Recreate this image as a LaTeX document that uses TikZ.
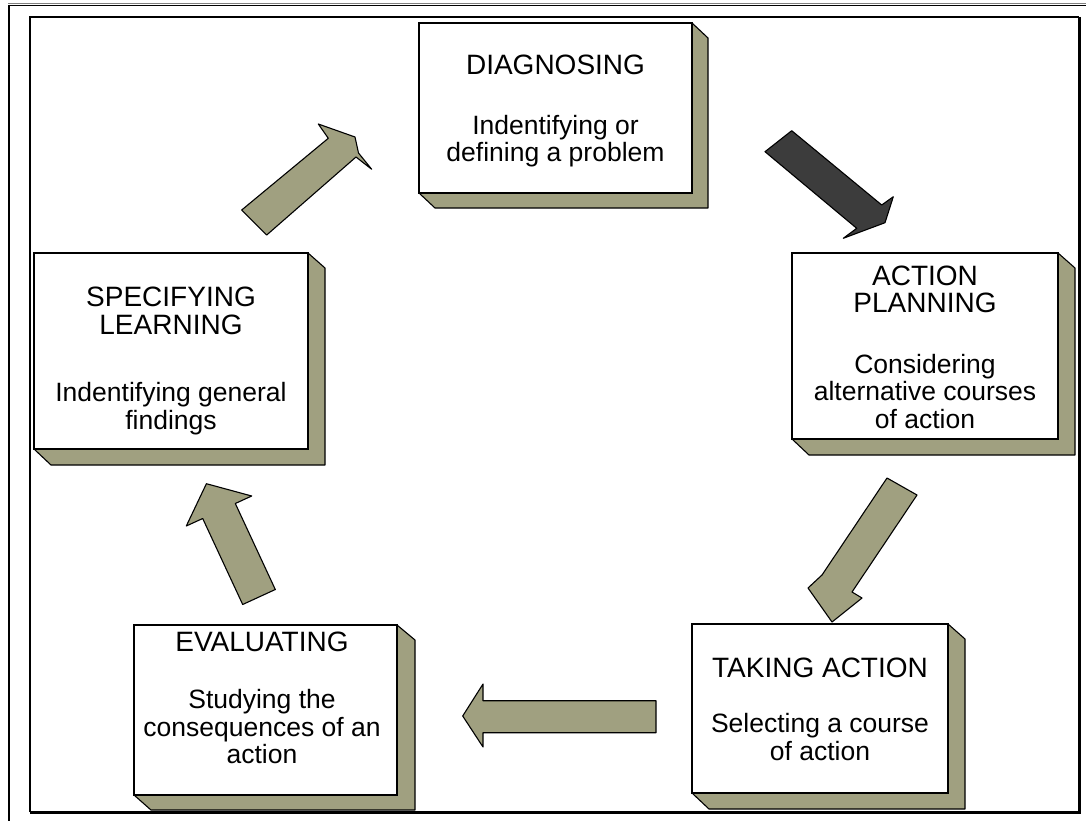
\documentclass[tikz,border=0pt]{standalone}
\usepackage{fontspec}
\setmainfont{Liberation Sans}
\definecolor{khaki}{RGB}{160,160,128}
\definecolor{darkarrow}{RGB}{60,60,60}
\newcommand{\ttl}[1]{{\fontsize{28}{28}\selectfont #1}}
\begin{document}
\begin{tikzpicture}[x=1pt,y=-1pt,
  face/.style={draw=black,line width=1.3pt,fill=white,inner sep=0pt},
  lbl/.style={inner sep=0pt,align=center,font=\fontsize{26.5}{27.5}\selectfont},
  side/.style={draw=black,line width=1.1pt,fill=khaki,line join=round},
  blockarrow/.style={draw=black,line width=1.1pt,fill=khaki,line join=round},
  darkblock/.style={draw=black,line width=1.1pt,fill=darkarrow,line join=round}]
\useasboundingbox (0,0) rectangle (1086,821);
\fill[white] (0,0) rectangle (1086,821);
% frame
\draw[line width=1pt,draw=gray] (8,3.5) -- (1086,3.5);
\draw[line width=1.6pt] (8,5.5) -- (1086,5.5);
\draw[line width=2pt] (9,5) -- (9,821);
\draw[line width=1.6pt] (30,812) -- (30,17) -- (1079,17);
\draw[line width=3pt] (1079,17) -- (1079,812) -- (30,812);
% side faces
\draw[side] (692,23) -- (708,38) -- (708,208) -- (435,208) -- (419,193) -- cycle;
\draw[side] (1058,253) -- (1075,268) -- (1075,455) -- (809,455) -- (792,439) -- cycle;
\draw[side] (948,624) -- (965,639) -- (965,809) -- (709,809) -- (692,793) -- cycle;
\draw[side] (397,625) -- (415,640) -- (415,810) -- (151,810) -- (134,795) -- cycle;
\draw[side] (308,253) -- (325,268) -- (325,465) -- (51,465) -- (34,449) -- cycle;
% boxes
\node[face,minimum width=273,minimum height=170] (diag) at (555.5,108) {};
\node[face,minimum width=266,minimum height=186] (plan) at (925,346) {};
\node[face,minimum width=256,minimum height=169] (take) at (820,708.5) {};
\node[face,minimum width=263,minimum height=170] (eval) at (265.5,710) {};
\node[face,minimum width=274,minimum height=196] (spec) at (171,351) {};
% texts
\node[lbl] (diagtext) at (555.5,111)
  {\ttl{DIAGNOSING}\\[32pt]Indentifying or\\defining a problem};
\node[lbl] (plantext) at (925,347)
  {\ttl{ACTION}\\\ttl{PLANNING}\\[33pt]Considering\\alternative courses\\of action};
\node[lbl] (taketext) at (820,709)
  {\ttl{TAKING ACTION}\\[28pt]Selecting a course\\of action};
\node[lbl] (evaltext) at (262,698)
  {\ttl{EVALUATING}\\[30pt]Studying the\\consequences of an\\action};
\node[lbl] (spectext) at (171,361)
  {\ttl{SPECIFYING}\\\ttl{LEARNING}\\[40pt]Indentifying general\\findings};
% arrows
\draw[blockarrow] (241.7,210) -- (328.3,138.3) -- (318.3,124) -- (355,137) -- (358.5,153) -- (371.7,169.3) -- (356,157) -- (266.7,235) -- cycle;
\draw[darkblock] (791.7,130.7) -- (881.7,205) -- (893.3,196.7) -- (885,222.7) -- (843.3,238.3) -- (856.7,228.3) -- (765,151.7) -- cycle;
\draw[blockarrow] (887,478) -- (917,495) -- (852,592) -- (862,598) -- (832,622) -- (808,588) -- (822,575) -- cycle;
\draw[blockarrow] (656,700.7) -- (483,700.7) -- (483,684) -- (462.7,716) -- (483,747) -- (483,732.7) -- (656,732.7) -- cycle;
\draw[blockarrow] (242.7,604.5) -- (275.3,589.5) -- (235.3,503.5) -- (251.7,496) -- (206.4,483.7) -- (186.3,526) -- (202.7,518.5) -- cycle;
\end{tikzpicture}
\end{document}
